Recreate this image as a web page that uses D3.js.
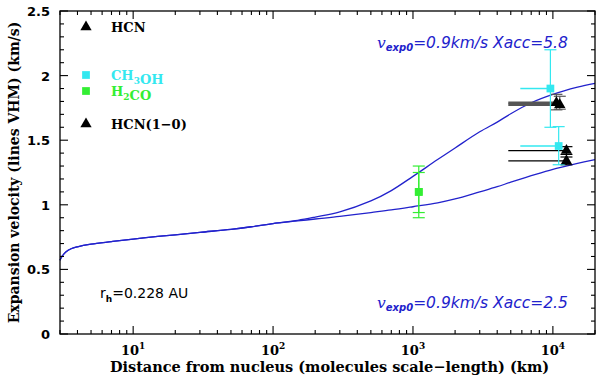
<!DOCTYPE html>
<html>
<head>
<meta charset="utf-8">
<script src="https://cdn.jsdelivr.net/npm/d3@7"></script>
<style>
  body { margin: 0; background: #fff; }
  svg { display: block; }
</style>
</head>
<body>
<script>
// model curves: distance (km) and expansion velocity (km/s)
const curveDist = [3, 3.1, 3.3, 3.6, 4, 5, 7, 10, 15, 20, 30, 50, 70, 100, 150, 200, 300, 500, 700, 1000, 1500, 2000, 3000, 4000, 5000, 7000, 10000, 15000, 20000];
const velXacc58 = [0.57, 0.60, 0.635, 0.66, 0.675, 0.695, 0.715, 0.735, 0.755, 0.768, 0.787, 0.81, 0.83, 0.855, 0.88, 0.905, 0.945, 1.03, 1.11, 1.22, 1.35, 1.44, 1.565, 1.64, 1.705, 1.79, 1.855, 1.91, 1.94];
const velXacc25 = [0.57, 0.60, 0.635, 0.66, 0.675, 0.695, 0.715, 0.735, 0.755, 0.768, 0.787, 0.81, 0.83, 0.855, 0.875, 0.89, 0.91, 0.94, 0.96, 0.985, 1.015, 1.045, 1.10, 1.14, 1.175, 1.225, 1.275, 1.32, 1.35];

// measurements: [distance, velocity, vLow, vHigh, distLow]
const ch3ohPoints = [
  [9600, 1.90, 1.60, 2.20, 5850],
  [11000, 1.455, 1.31, 1.605, 5850]
];
const h2coPoints = [
  [1100, 1.10, 0.90, 1.30, null],
  [1100, 1.10, 0.94, 1.25, null]
];
const hcnPoints = [
  [10600, 1.79, 1.735, 1.855, 4800],
  [11200, 1.775, 1.74, 1.84, 4800]
];
const hcn10Points = [
  [12500, 1.42, 1.39, 1.45, 4800],
  [12500, 1.34, 1.31, 1.37, 4800]
];

const yTicks = [0, 0.5, 1, 1.5, 2, 2.5];
const yTickLabels = ['0', '0.5', '1', '1.5', '2', '2.5'];
const xTicks = [10, 100, 1000, 10000];
const xTickExps = ['1', '2', '3', '4'];

const width = 600, height = 378;
const margin = {top: 11, right: 5, bottom: 44, left: 60};
const blue = '#2222cc', cyan = '#33e8f0', green = '#33ee33';

const svg = d3.select('body').append('svg')
    .attr('width', width)
    .attr('height', height);

const x = d3.scaleLog()
    .domain([3, 20000])
    .range([margin.left, width - margin.right]);
const y = d3.scaleLinear()
    .domain([0, 2.5])
    .range([height - margin.bottom, margin.top]);

const plot = svg.append('g');

// model curves
const line = d3.line()
    .x(d => x(d[0]))
    .y(d => y(d[1]))
    .curve(d3.curveCatmullRom.alpha(0.5));

[velXacc58, velXacc25].forEach(vals => {
  plot.append('path')
      .datum(curveDist.map((d, i) => [d, vals[i]]))
      .attr('fill', 'none')
      .attr('stroke', blue)
      .attr('stroke-width', 1.3)
      .attr('d', line);
});

// error bars
const drawErrors = (pts, color, hWidth, capW) => {
  pts.forEach(p => {
    const px = x(p[0]), py = y(p[1]);
    if (p[4] !== null) {
      plot.append('line')
          .attr('x1', x(p[4])).attr('x2', px)
          .attr('y1', py).attr('y2', py)
          .attr('stroke', color).attr('stroke-width', hWidth);
    }
    plot.append('line')
        .attr('x1', px).attr('x2', px)
        .attr('y1', y(p[2])).attr('y2', y(p[3]))
        .attr('stroke', color).attr('stroke-width', 1.2);
    [p[2], p[3]].forEach(v => {
      plot.append('line')
          .attr('x1', px - capW).attr('x2', px + capW)
          .attr('y1', y(v)).attr('y2', y(v))
          .attr('stroke', color).attr('stroke-width', 1.2);
    });
  });
};

drawErrors(hcnPoints, '#555', 2.5, 6);
drawErrors(hcn10Points, '#000', 1.2, 6);
drawErrors(ch3ohPoints, cyan, 1.5, 6);
drawErrors(h2coPoints, green, 1.5, 6);

// markers
const tri = d3.symbol().type(d3.symbolTriangle).size(55);
const sq = d3.symbol().type(d3.symbolSquare).size(60);

const drawMarkers = (pts, sym, color) => {
  plot.selectAll(null)
    .data(pts)
    .enter()
    .append('path')
      .attr('d', sym)
      .attr('fill', color)
      .attr('transform', d => `translate(${x(d[0])},${y(d[1])})`);
};
drawMarkers(ch3ohPoints, sq, cyan);
drawMarkers(h2coPoints, sq, green);
drawMarkers(hcnPoints, tri, '#000');
drawMarkers(hcn10Points, tri, '#000');

// frame and ticks
const x0 = margin.left, x1 = width - margin.right;
const y0 = height - margin.bottom, y1 = margin.top;
svg.append('rect')
    .attr('x', x0).attr('y', y1)
    .attr('width', x1 - x0).attr('height', y0 - y1)
    .attr('fill', 'none').attr('stroke', '#000').attr('stroke-width', 1.3);

const ticks = svg.append('g').attr('stroke', '#000').attr('stroke-width', 1.1);
d3.range(0, 2.51, 0.1).forEach((v, i) => {
  const len = i % 5 === 0 ? 8 : 4;
  ticks.append('line').attr('x1', x0).attr('x2', x0 + len).attr('y1', y(v)).attr('y2', y(v));
  ticks.append('line').attr('x1', x1).attr('x2', x1 - len).attr('y1', y(v)).attr('y2', y(v));
});
x.ticks().filter(v => v >= 3 && v <= 20000).forEach(v => {
  const major = Math.abs(Math.log10(v) - Math.round(Math.log10(v))) < 1e-9;
  const len = major ? 8 : 4;
  ticks.append('line').attr('x1', x(v)).attr('x2', x(v)).attr('y1', y0).attr('y2', y0 - len);
  ticks.append('line').attr('x1', x(v)).attr('x2', x(v)).attr('y1', y1).attr('y2', y1 + len);
});

// tick labels
svg.selectAll('.ylab')
  .data(yTicks)
  .enter()
  .append('text')
    .attr('x', x0 - 10)
    .attr('y', d => y(d) + 5)
    .attr('text-anchor', 'end')
    .attr('font-family', 'DejaVu Sans')
    .attr('font-weight', 'bold')
    .attr('font-size', 13)
    .text((d, i) => yTickLabels[i]);

xTicks.forEach((v, i) => {
  const t = svg.append('text')
      .attr('x', x(v))
      .attr('y', y0 + 21)
      .attr('text-anchor', 'middle')
      .attr('font-family', 'DejaVu Serif')
      .attr('font-weight', 'bold')
      .attr('font-size', 13);
  t.append('tspan').text('10');
  t.append('tspan').attr('dy', -6).attr('font-size', 9).text(xTickExps[i]);
});

// axis titles
svg.append('text')
    .attr('x', (x0 + x1) / 2 + 2)
    .attr('y', height - 6)
    .attr('text-anchor', 'middle')
    .attr('font-family', 'DejaVu Serif')
    .attr('font-weight', 'bold')
    .attr('font-size', 14.5)
    .text('Distance from nucleus (molecules scale\u2212length) (km)');

svg.append('text')
    .attr('transform', `translate(19,${(y0 + y1) / 2}) rotate(-90)`)
    .attr('text-anchor', 'middle')
    .attr('font-family', 'DejaVu Serif')
    .attr('font-weight', 'bold')
    .attr('font-size', 14)
    .text('Expansion velocity (lines VHM) (km/s)');

// legend
const legend = svg.append('g')
    .attr('font-family', 'DejaVu Serif')
    .attr('font-weight', 'bold')
    .attr('font-size', 13);
const legendRow = (yy, sym, color, parts, textColor) => {
  legend.append('path').attr('d', sym).attr('fill', color)
      .attr('transform', `translate(86,${yy})`);
  const t = legend.append('text').attr('x', 111).attr('y', yy + 5).attr('fill', textColor);
  parts.forEach(p => {
    if (p.sub) {
      t.append('tspan').attr('dy', 4).attr('font-size', 9).text(p.t);
      t.append('tspan').attr('dy', -4).text('');
    } else {
      t.append('tspan').text(p.t);
    }
  });
};
legendRow(27, tri, '#000', [{t: 'HCN'}], '#000');
legendRow(75, sq, cyan, [{t: 'CH'}, {t: '3', sub: true}, {t: 'OH'}], cyan);
legendRow(91, sq, green, [{t: 'H'}, {t: '2', sub: true}, {t: 'CO'}], green);
legendRow(124, tri, '#000', [{t: 'HCN(1\u22120)'}], '#000');

// annotations
const annot = (xx, yy, xacc) => {
  const t = svg.append('text')
      .attr('x', xx).attr('y', yy)
      .attr('fill', blue)
      .attr('font-family', 'DejaVu Sans')
      .attr('font-style', 'italic')
      .attr('font-size', 15.5);
  t.append('tspan').attr('font-family', 'DejaVu Serif').text('v');
  t.append('tspan').attr('dy', 3).attr('font-size', 10).attr('font-weight', 'bold').text('exp0');
  t.append('tspan').attr('dy', -3).text('=0.9km/s Xacc=' + xacc);
};
annot(377, 48, '5.8');
annot(377, 308, '2.5');

const rh = svg.append('text')
    .attr('x', 100).attr('y', 298)
    .attr('font-family', 'DejaVu Sans')
    .attr('font-size', 14);
rh.append('tspan').text('r');
rh.append('tspan').attr('dy', 4).attr('font-size', 9).attr('font-weight', 'bold').text('h');
rh.append('tspan').attr('dy', -4).text('=0.228 AU');
</script>
</body>
</html>
